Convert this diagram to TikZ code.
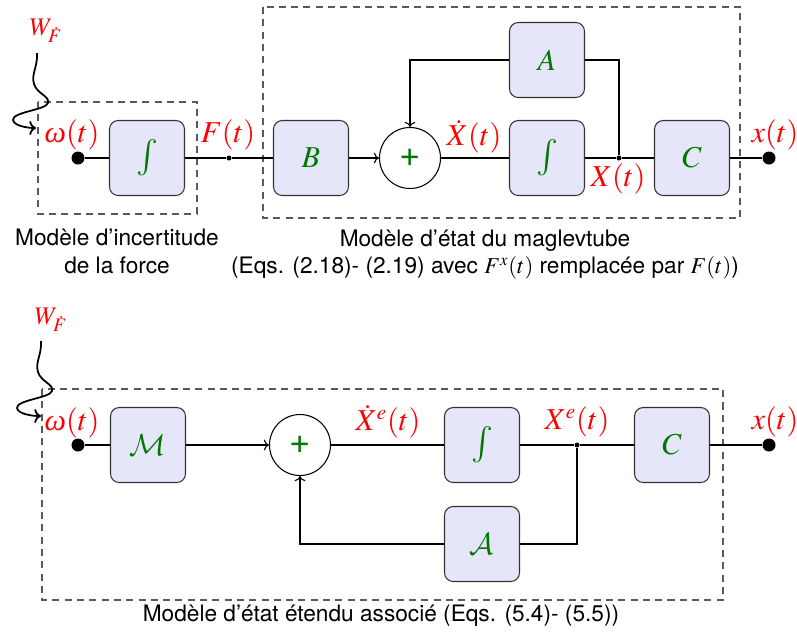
\documentclass[tikz,border=0pt,11pt]{standalone}
\usepackage{mathptmx}
\DeclareMathAlphabet{\mathcal}{OMS}{cmsy}{m}{n}
\usepackage[no-math]{fontspec}
\setmainfont{TeX Gyre Heros}
\newfontfamily\grecfont{Liberation Serif}
\newcommand{\om}{\mbox{\grecfont\itshape ω}}
\usetikzlibrary{arrows.meta,positioning,calc}
\usepackage{xcolor}
\definecolor{blocfill}{RGB}{230,230,250}
\definecolor{vert}{RGB}{0,120,0}

\begin{document}
\begin{tikzpicture}[
    bloc/.style={draw=black!80, fill=blocfill, rounded corners=5pt, minimum width=1.5cm, minimum height=1.5cm, font=\LARGE, text=vert, line width=0.6pt},
    integ/.style={bloc, font=\huge},
    somme/.style={draw, circle, fill=white, minimum size=1.22cm, inner sep=0pt, font=\huge, text=vert, line width=0.6pt},
    point/.style={circle, fill, inner sep=0pt, minimum size=0.26cm},
    jonction/.style={circle, fill, inner sep=0pt, minimum size=0.1cm},
    lbl/.style={text=red, font=\LARGE, inner sep=1pt},
    cadre/.style={draw=black!65, dash pattern=on 4pt off 3pt, line width=0.6pt},
    lien/.style={line width=0.6pt},
    fleche/.style={->, line width=0.6pt},
    onde/.style={->, line width=1pt},
    legende/.style={align=center, font=\fontsize{12.9}{15.5}\selectfont}
]
\useasboundingbox (0,0) rectangle (15.94,-12.72);

% modele du haut
\draw[cadre] (0.76,-2.04) rectangle (3.94,-4.28);
\draw[cadre] (5.26,-0.14) rectangle (14.8,-4.36);

\node[lbl] (w1) at (0.92,-0.62) {\Large$W_{\dot F}$};
\coordinate (wa1) at (0.74,-1.06);
\coordinate (wb1) at (0.72,-2.56);
\draw[onde] (wa1) .. controls (0.76,-1.32) and (0.62,-1.48) .. (0.68,-1.68)
    .. controls (0.74,-1.88) and (1.0,-1.92) .. (0.96,-2.06)
    .. controls (0.92,-2.2) and (0.24,-2.24) .. (0.26,-2.4)
    .. controls (0.28,-2.52) and (0.56,-2.56) .. (wb1);

\node[point] (om1) at (1.56,-3.16) {};
\node[lbl] at (1.44,-2.70) {$\om(t)$};
\node[integ] (int1) at (2.94,-3.16) {$\int$};
\node[jonction] (f1) at (4.58,-3.16) {};
\node[lbl] at (4.56,-2.70) {$F(t)$};
\node[bloc] (B) at (6.22,-3.16) {$B$};
\node[somme] (s1) at (8.2,-3.16) {+};
\node[lbl] at (9.48,-2.74) {$\dot X(t)$};
\node[bloc] (A) at (10.94,-1.2) {$A$};
\node[integ] (int2) at (10.94,-3.16) {$\int$};
\node[jonction] (x1) at (12.38,-3.16) {};
\node[lbl] at (12.36,-3.58) {$X(t)$};
\node[bloc] (C1) at (13.84,-3.16) {$C$};
\node[point] (y1) at (15.38,-3.16) {};
\node[lbl] at (15.5,-2.70) {$x(t)$};

\draw[lien] (om1) -- (int1);
\draw[lien] (int1) -- (f1) -- (B);
\draw[fleche] (B) -- (s1);
\draw[lien] (s1) -- (int2);
\draw[lien] (int2) -- (x1) -- (C1);
\draw[lien] (C1) -- (y1);
\draw[fleche] (A.west) -| (s1.north);
\draw[lien] (A.east) -| (x1);

\node[legende] (leg1) at (2.34,-5.03) {Modèle d'incertitude\\de la force};
\node[legende] (leg2) at (9.7,-5.09) {Modèle d'état du maglevtube\\(Eqs. (2.18)- (2.19) avec $F^x(t)$ remplacée par $F(t)$)};

% modele etendu
\draw[cadre] (0.84,-7.78) rectangle (14.46,-12.0);

\node[lbl] (w2) at (1.02,-6.4) {\Large$W_{\dot F}$};
\coordinate (wa2) at (0.82,-6.82);
\coordinate (wb2) at (0.82,-8.32);
\draw[onde] (wa2) .. controls (0.84,-7.08) and (0.70,-7.24) .. (0.76,-7.44)
    .. controls (0.82,-7.64) and (1.08,-7.68) .. (1.04,-7.82)
    .. controls (1.0,-7.96) and (0.32,-8.0) .. (0.34,-8.16)
    .. controls (0.36,-8.28) and (0.64,-8.32) .. (wb2);

\node[point] (om2) at (1.56,-8.9) {};
\node[lbl] at (1.44,-8.46) {$\om(t)$};
\node[bloc] (M) at (2.96,-8.9) {$\mathcal{M}$};
\node[somme] (s2) at (6.0,-8.9) {+};
\node[lbl] at (7.76,-8.44) {$\dot X^e(t)$};
\node[integ] (int3) at (9.64,-8.9) {$\int$};
\node[jonction] (x2) at (11.54,-8.9) {};
\node[lbl] at (11.54,-8.44) {$X^e(t)$};
\node[bloc] (C2) at (13.44,-8.9) {$C$};
\node[point] (y2) at (15.38,-8.9) {};
\node[lbl] at (15.5,-8.44) {$x(t)$};
\node[bloc] (Ae) at (9.64,-10.88) {$\mathcal{A}$};

\draw[lien] (om2) -- (M);
\draw[fleche] (M) -- (s2);
\draw[lien] (s2) -- (int3);
\draw[lien] (int3) -- (x2) -- (C2);
\draw[lien] (C2) -- (y2);
\draw[lien] (x2) |- (Ae.east);
\draw[fleche] (Ae.west) -| (s2.south);

\node[legende] (leg3) at (7.62,-12.32) {Modèle d'état étendu associé (Eqs. (5.4)- (5.5))};

\end{tikzpicture}
\end{document}
